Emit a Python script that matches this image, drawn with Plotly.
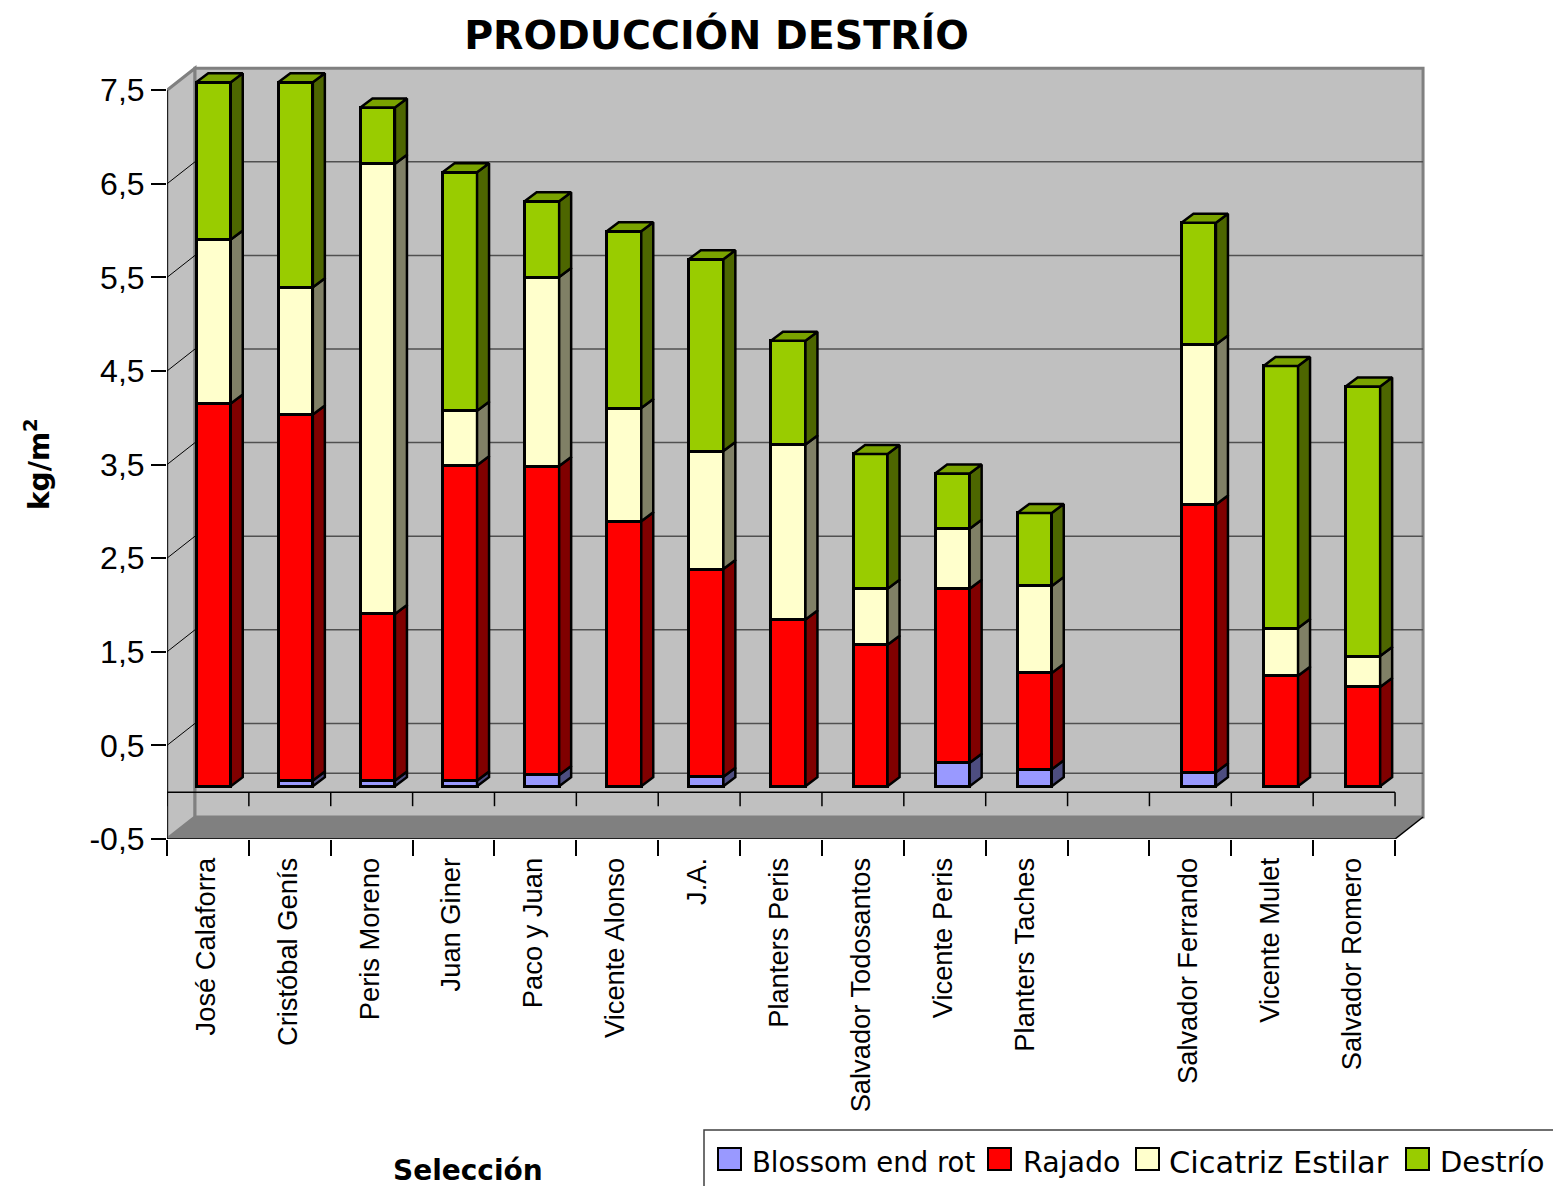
"""Producción destrío: barras apiladas con aspecto 3D"""

import plotly.graph_objects as go

CATEGORIES = ["José Calaforra", "Cristóbal Genís", "Peris Moreno", "Juan Giner", "Paco y Juan",
              "Vicente Alonso", "J.A.", "Planters Peris", "Salvador Todosantos", "Vicente Peris",
              "Planters Taches", "", "Salvador Ferrando", "Vicente Mulet", "Salvador Romero"]
BLOSSOM = [0, 0.06, 0.06, 0.06, 0.12, 0, 0.10, 0, 0, 0.25, 0.18, None, 0.15, 0, 0]
RAJADO = [4.09, 3.91, 1.78, 3.37, 3.30, 2.83, 2.22, 1.78, 1.51, 1.86, 1.03, None, 2.86, 1.18, 1.06]
CICATRIZ = [1.75, 1.36, 4.81, 0.58, 2.02, 1.21, 1.26, 1.87, 0.60, 0.64, 0.93, None, 1.71, 0.51, 0.33]
DESTRIO = [1.68, 2.19, 0.60, 2.55, 0.81, 1.89, 2.05, 1.11, 1.44, 0.59, 0.78, None, 1.30, 2.80, 2.88]
Y_TICKS = [-0.5, 0.5, 1.5, 2.5, 3.5, 4.5, 5.5, 6.5, 7.5]
SERIES = [
    ("Blossom end rot", BLOSSOM, "#9999FF", "#4D4D80"),
    ("Rajado", RAJADO, "#FF0000", "#800000"),
    ("Cicatriz Estilar", CICATRIZ, "#FFFFCC", "#808066"),
    ("Destrío", DESTRIO, "#99CC00", "#4D6600"),
]

WIDTH, HEIGHT = 1553, 1186
LEFT, RIGHT, TOP, BOTTOM = 167, 1430, 60, 839
SX = 81.87   # px por categoría en el eje
SY = 93.6    # px por unidad
BAR_SX = 82.1   # las barras van un poco más separadas que las marcas
FIRST_BAR_PX = 213.5
WALL_DX, WALL_DY = 28 / SX, 22 / SY
BAR_DY = 6 / SY
SIDE_DX, SIDE_DY = 12 / BAR_SX, 9 / SY
BAR_WIDTH = 34.5 / BAR_SX

TEXT_FONT = "Liberation Sans"
HAND_FONT = "DejaVu Sans"

x_range = [-0.5, -0.5 + (RIGHT - LEFT) / SX]
y_range = [-0.5, -0.5 + (BOTTOM - TOP) / SY]
x2_low = -(FIRST_BAR_PX - LEFT) / BAR_SX
x2_range = [x2_low, x2_low + (RIGHT - LEFT) / BAR_SX]
x_end = len(CATEGORIES) - 0.5
y_low, y_high = Y_TICKS[0], Y_TICKS[-1]


def paper_x(px):
    return (px - LEFT) / (RIGHT - LEFT)


def paper_y(py):
    return (BOTTOM - py) / (BOTTOM - TOP)


def polygon(points):
    return "M " + " L ".join(f"{x},{y}" for x, y in points) + " Z"


shapes = [
    # pared lateral
    dict(type="path", path=polygon([(-0.5, y_low), (-0.5 + WALL_DX, y_low + WALL_DY),
                                    (-0.5 + WALL_DX, y_high + WALL_DY), (-0.5, y_high)]),
         fillcolor="#C0C0C0", line=dict(color="#808080", width=3), layer="below"),
    # pared del fondo
    dict(type="path", path=polygon([(-0.5 + WALL_DX, y_low + WALL_DY), (x_end + WALL_DX, y_low + WALL_DY),
                                    (x_end + WALL_DX, y_high + WALL_DY), (-0.5 + WALL_DX, y_high + WALL_DY)]),
         fillcolor="#C0C0C0", line=dict(color="#808080", width=3), layer="below"),
    # suelo
    dict(type="path", path=polygon([(-0.5, y_low), (x_end, y_low), (x_end + WALL_DX, y_low + WALL_DY),
                                    (-0.5 + WALL_DX, y_low + WALL_DY)]),
         fillcolor="#808080", line=dict(width=0), layer="below"),
]

# rejilla del fondo y diagonales de la pared lateral
for v in Y_TICKS[1:-1]:
    shapes.append(dict(type="line", x0=-0.5 + WALL_DX, x1=x_end + WALL_DX, y0=v + WALL_DY, y1=v + WALL_DY,
                       line=dict(color="#505050", width=1.5), layer="below"))
    shapes.append(dict(type="line", x0=-0.5, x1=-0.5 + WALL_DX, y0=v, y1=v + WALL_DY,
                       line=dict(color="#000000", width=1), layer="below"))
zero_back = WALL_DY - 3 / SY
shapes.append(dict(type="line", x0=-0.5 + WALL_DX, x1=x_end + WALL_DX, y0=zero_back, y1=zero_back,
                   line=dict(color="#505050", width=1.5), layer="below"))

# plano del cero con sus marcas
shapes.append(dict(type="line", x0=-0.5, x1=x_end, y0=0, y1=0,
                   line=dict(color="#000000", width=1.5), layer="below"))
for i in range(len(CATEGORIES) + 1):
    shapes.append(dict(type="line", x0=i - 0.5, x1=i - 0.5, y0=0, y1=-14 / SY,
                       line=dict(color="#000000", width=1.5), layer="below"))
# borde delantero derecho
shapes.append(dict(type="line", x0=x_end, x1=x_end + WALL_DX, y0=y_low, y1=y_low + WALL_DY,
                   line=dict(color="#000000", width=1.5), layer="below"))

fig = go.Figure()

# borde delantero por encima de las paredes, sin recorte
fig.add_trace(go.Scatter(
    x=[-0.5, -0.5, None, -0.5, x_end], y=[y_high, y_low, None, y_low, y_low],
    mode="lines", line=dict(color="#000000", width=1.5), cliponaxis=False,
    hoverinfo="skip", showlegend=False, xaxis="x", yaxis="y",
))

stack = [0.0] * len(CATEGORIES)
top_x, top_y = [], []
for name, values, color, side_color in SERIES:
    fig.add_trace(go.Bar(
        x=list(range(len(CATEGORIES))), y=values, name=name, width=BAR_WIDTH,
        marker=dict(color=color, line=dict(color="#000000", width=3)),
        showlegend=False, xaxis="x2", yaxis="y2",
    ))
    side_x, side_y = [], []
    for i, v in enumerate(values):
        if v is None:
            continue
        right = i + BAR_WIDTH / 2
        y0, y1 = stack[i], stack[i] + v
        stack[i] = y1
        if v == 0:
            continue
        side_x += [right, right + SIDE_DX, right + SIDE_DX, right, right, None]
        side_y += [y0, y0 + SIDE_DY, y1 + SIDE_DY, y1, y0, None]
    fig.add_trace(go.Scatter(
        x=side_x, y=side_y, mode="lines", fill="toself", fillcolor=side_color,
        line=dict(color="#000000", width=2.5), hoverinfo="skip", showlegend=False,
        xaxis="x2", yaxis="y2",
    ))

for i, y1 in enumerate(stack):
    if DESTRIO[i] is None:
        continue
    left, right = i - BAR_WIDTH / 2, i + BAR_WIDTH / 2
    top_x += [left, left + SIDE_DX, right + SIDE_DX, right, left, None]
    top_y += [y1, y1 + SIDE_DY, y1 + SIDE_DY, y1, y1, None]
fig.add_trace(go.Scatter(
    x=top_x, y=top_y, mode="lines", fill="toself", fillcolor="#7AA300",
    line=dict(color="#000000", width=2.5), hoverinfo="skip", showlegend=False,
    xaxis="x2", yaxis="y2",
))

# leyenda recortada por el borde de la imagen
LEGEND_SWATCH_X = [718, 988, 1136, 1406]
LEGEND_TEXT_X = [750, 1021, 1167, 1438]
LEGEND_SIZES = [27.5, 28.5, 30.5, 29]
annotations = []
shapes.append(dict(type="path", xref="paper", yref="paper",
                   path=f"M {paper_x(704)},{paper_y(1186)} L {paper_x(704)},{paper_y(1130)} "
                        f"L {paper_x(1553)},{paper_y(1130)}",
                   line=dict(color="#404040", width=1.5)))
for (name, _, color, _), sx, tx, size in zip(SERIES, LEGEND_SWATCH_X, LEGEND_TEXT_X, LEGEND_SIZES):
    shapes.append(dict(type="rect", xref="paper", yref="paper",
                       x0=paper_x(sx), x1=paper_x(sx + 23), y0=paper_y(1170), y1=paper_y(1148),
                       fillcolor=color, line=dict(color="#000000", width=2)))
    annotations.append(dict(text=name, xref="paper", yref="paper", x=paper_x(tx), y=paper_y(1162),
                            xanchor="left", yanchor="middle", showarrow=False,
                            font=dict(family=HAND_FONT, size=size, color="#000000")))

annotations.append(dict(text="<b>Selección</b>", xref="paper", yref="paper", x=paper_x(468), y=paper_y(1170),
                        xanchor="center", yanchor="middle", showarrow=False,
                        font=dict(family=HAND_FONT, size=28, color="#000000")))
annotations.append(dict(text="<b>kg/m<sup>2</sup></b>", xref="paper", yref="paper", x=paper_x(37), y=paper_y(464),
                        xanchor="center", yanchor="middle", textangle=-90, showarrow=False,
                        font=dict(family=HAND_FONT, size=28, color="#000000")))

label_positions = [i for i, c in enumerate(CATEGORIES) if c]

fig.update_layout(
    width=WIDTH, height=HEIGHT, autosize=False,
    margin=dict(l=LEFT, r=WIDTH - RIGHT, t=TOP, b=HEIGHT - BOTTOM, pad=0),
    paper_bgcolor="#FFFFFF", plot_bgcolor="#FFFFFF",
    barmode="stack", showlegend=False,
    title=dict(text="<b>PRODUCCIÓN DESTRÍO</b>", x=716.5 / WIDTH, xref="container", xanchor="center",
               y=1 - 35 / HEIGHT, yref="container", yanchor="middle",
               font=dict(family=HAND_FONT, size=39.5, color="#000000")),
    xaxis=dict(range=x_range, tickmode="array", tickvals=label_positions,
               ticktext=[CATEGORIES[i] for i in label_positions],
               tickangle=-90, ticks="outside", ticklen=7, tickcolor="rgba(0,0,0,0)", ticklabelshift=-2,
               tickfont=dict(family=TEXT_FONT, size=27.3, color="#000000"),
               minor=dict(tickmode="array", tickvals=[i - 0.5 for i in range(len(CATEGORIES) + 1)],
                          ticks="outside", ticklen=16, tickcolor="#000000", tickwidth=1.5),
               showgrid=False, zeroline=False, showline=False),
    yaxis=dict(range=y_range, tickmode="array", tickvals=Y_TICKS,
               ticktext=[f"{v:.1f}".replace(".", ",") for v in Y_TICKS],
               ticks="outside", ticklen=15, tickcolor="#000000", tickwidth=1.5,
               tickfont=dict(family=TEXT_FONT, size=32, color="#000000"),
               showgrid=False, zeroline=False, showline=False),
    xaxis2=dict(range=x2_range, overlaying="x", anchor="y2", visible=False),
    yaxis2=dict(range=[y_range[0] - BAR_DY, y_range[1] - BAR_DY], overlaying="y", anchor="x2", visible=False),
    shapes=shapes, annotations=annotations,
)

fig.write_html("out.html", config=dict(displayModeBar=False),
               post_script="document.body.style.margin='0';document.body.style.overflow='hidden';")
